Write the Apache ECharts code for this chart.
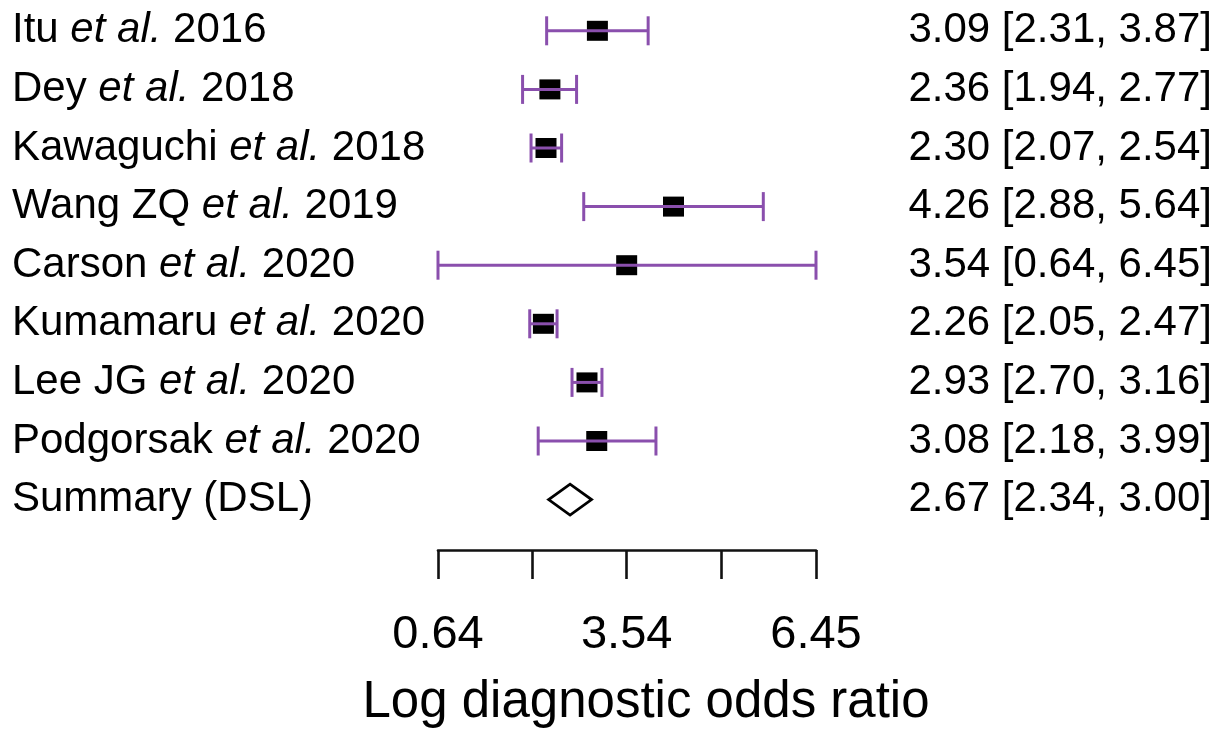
<!DOCTYPE html>
<html>
<head>
<meta charset="utf-8">
<script src="https://cdn.jsdelivr.net/npm/echarts@6/dist/echarts.min.js"></script>
<style>
  html, body { margin: 0; padding: 0; background: #fff; }
  #chart { width: 1229px; height: 733px; }
</style>
</head>
<body>
<div id="chart"></div>
<script>
// ---- data ----
var authors = ["Itu", "Dey", "Kawaguchi", "Wang ZQ", "Carson", "Kumamaru", "Lee JG", "Podgorsak", "Summary (DSL)"];
var years = ["2016", "2018", "2018", "2019", "2020", "2020", "2020", "2020", ""];
var estimates = [3.09, 2.36, 2.30, 4.26, 3.54, 2.26, 2.93, 3.08, 2.67];
var lowers = [2.31, 1.94, 2.07, 2.88, 0.64, 2.05, 2.70, 2.18, 2.34];
var uppers = [3.87, 2.77, 2.54, 5.64, 6.45, 2.47, 3.16, 3.99, 3.00];
var isSummary = [false, false, false, false, false, false, false, false, true];
var tickValues = [0.64, 2.09, 3.54, 5.00, 6.45];
var tickLabels = [0.64, 3.54, 6.45];
var xAxisTitle = "Log diagnostic odds ratio";

// ---- build series data ----
var rowIdx = authors.map(function (_, i) { return i; });
var squareData = [], barData = [], diamondData = [];
rowIdx.forEach(function (i) {
  if (isSummary[i]) {
    diamondData.push([lowers[i], estimates[i], uppers[i], i]);
  } else {
    squareData.push([estimates[i], i]);
    barData.push([lowers[i], uppers[i], i]);
  }
});

var FONT = '"Liberation Sans", Arial, Helvetica, sans-serif';
var chart = echarts.init(document.getElementById('chart'), null, { renderer: 'canvas' });

var option = {
  backgroundColor: '#ffffff',
  animation: false,
  textStyle: { fontFamily: FONT, color: '#000' },
  grid: { left: 438, right: 413, top: 1.5, bottom: 179, containLabel: false },
  xAxis: {
    type: 'value',
    min: 0.64,
    max: 6.45,
    position: 'bottom',
    name: xAxisTitle,
    nameLocation: 'middle',
    nameGap: 127,
    nameTextStyle: { fontFamily: FONT, fontSize: 51, color: '#000', padding: [0, 0, 0, 38] },
    axisLine: { show: true, onZero: false, lineStyle: { color: '#111', width: 2.6 } },
    axisTick: {
      show: true, length: 29, inside: false,
      customValues: tickValues,
      lineStyle: { color: '#111', width: 2.6 }
    },
    axisLabel: {
      show: true, margin: 62,
      customValues: tickLabels,
      fontFamily: FONT, fontSize: 47, color: '#000',
      formatter: function (v) { return Number(v).toFixed(2); }
    },
    splitLine: { show: false }
  },
  yAxis: [{
    type: 'value',
    inverse: true,
    min: -0.5,
    max: 8.86,
    position: 'left',
    axisLine: { show: false, onZero: false },
    axisTick: { show: false },
    splitLine: { show: false },
    axisLabel: {
      show: true,
      customValues: rowIdx,
      align: 'left',
      margin: 426,
      formatter: function (v) {
        var i = Math.round(v);
        if (isSummary[i]) return '{n|' + authors[i] + '}';
        return '{n|' + authors[i] + ' }{i|et al.}{n| ' + years[i] + '}';
      },
      rich: {
        n: { fontFamily: FONT, fontSize: 42, color: '#000' },
        i: { fontFamily: FONT, fontSize: 42, fontStyle: 'italic', color: '#000' }
      }
    }
  }, {
    type: 'value',
    inverse: true,
    min: -0.5,
    max: 8.86,
    position: 'right',
    axisLine: { show: false, onZero: false },
    axisTick: { show: false },
    splitLine: { show: false },
    axisLabel: {
      show: true,
      customValues: rowIdx,
      align: 'right',
      margin: 396,
      fontFamily: FONT, fontSize: 42, color: '#000',
      formatter: function (v) {
        var i = Math.round(v);
        return estimates[i].toFixed(2) + ' [' + lowers[i].toFixed(2) + ', ' + uppers[i].toFixed(2) + ']';
      }
    }
  }],
  series: [{
    type: 'scatter',
    data: squareData,
    symbol: 'rect',
    symbolSize: [21, 20],
    itemStyle: { color: '#000', opacity: 1 },
    z: 2,
    silent: true
  }, {
    type: 'custom',
    data: barData,
    z: 3,
    silent: true,
    renderItem: function (params, api) {
      var lo = api.coord([api.value(0), api.value(2)]);
      var hi = api.coord([api.value(1), api.value(2)]);
      var h = 14.5;
      var st = { stroke: '#8a4fad', lineWidth: 3 };
      return {
        type: 'group',
        children: [
          { type: 'line', shape: { x1: lo[0], y1: lo[1], x2: hi[0], y2: hi[1] }, style: st },
          { type: 'line', shape: { x1: lo[0], y1: lo[1] - h, x2: lo[0], y2: lo[1] + h }, style: st },
          { type: 'line', shape: { x1: hi[0], y1: hi[1] - h, x2: hi[0], y2: hi[1] + h }, style: st }
        ]
      };
    }
  }, {
    type: 'custom',
    data: diamondData,
    z: 3,
    silent: true,
    renderItem: function (params, api) {
      var lo = api.coord([api.value(0), api.value(3)]);
      var mid = api.coord([api.value(1), api.value(3)]);
      var hi = api.coord([api.value(2), api.value(3)]);
      var h = 15.5;
      return {
        type: 'polygon',
        shape: { points: [[lo[0], lo[1]], [mid[0], mid[1] - h], [hi[0], hi[1]], [mid[0], mid[1] + h]] },
        style: { fill: '#fff', stroke: '#000', lineWidth: 2.8 }
      };
    }
  }]
};
chart.setOption(option);
</script>
</body>
</html>
